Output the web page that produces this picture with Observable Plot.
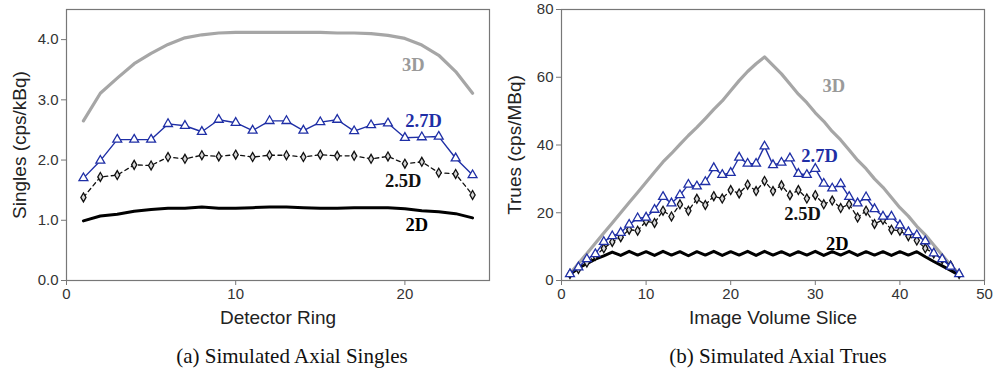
<!DOCTYPE html>
<html><head><meta charset="utf-8">
<script src="https://cdn.jsdelivr.net/npm/d3@7"></script>
<script src="https://cdn.jsdelivr.net/npm/@observablehq/plot@0.6"></script>
<style>
body{margin:0;background:#fff;}
#wrap{position:relative;width:999px;height:375px;overflow:hidden;}
.panel{position:absolute;top:0;}
.cap{position:absolute;top:343px;width:300px;font-family:"Liberation Serif","Times New Roman",serif;font-size:21px;line-height:26px;color:#111;text-align:center;white-space:nowrap;}
</style></head><body>
<div id="wrap">
  <div id="a" class="panel" style="left:0;width:500px"></div>
  <div id="b" class="panel" style="left:500px;width:499px"></div>
  <div class="cap" id="capA" style="left:142px"></div>
  <div class="cap" id="capB" style="left:628px"></div>
</div>
<script>
// ---------- Panel (a): Simulated Axial Singles ----------
const ring = [1,2,3,4,5,6,7,8,9,10,11,12,13,14,15,16,17,18,19,20,21,22,23,24];
const singles3D  = [2.65,3.11,3.36,3.60,3.77,3.92,4.03,4.08,4.11,4.12,4.12,4.12,4.12,4.12,4.12,4.11,4.11,4.10,4.07,4.02,3.91,3.74,3.47,3.11];
const singles27D = [1.70,1.99,2.34,2.34,2.34,2.60,2.57,2.47,2.67,2.62,2.49,2.65,2.65,2.49,2.63,2.67,2.48,2.58,2.61,2.37,2.38,2.39,2.03,1.75];
const singles25D = [1.38,1.72,1.75,1.92,1.91,2.05,2.02,2.08,2.06,2.09,2.05,2.08,2.08,2.05,2.09,2.07,2.07,2.02,2.06,1.94,1.97,1.79,1.77,1.42];
const singles2D  = [0.99,1.07,1.10,1.15,1.18,1.20,1.20,1.22,1.20,1.20,1.21,1.22,1.22,1.21,1.20,1.20,1.21,1.21,1.21,1.19,1.16,1.14,1.11,1.04];
const singlesXTicks = [0,10,20];
const singlesYTicks = [0,1,2,3,4];
const singlesLabelText = ["3D","2.7D","2.5D","2D"];
const singlesLabelX = [20.5,21.1,19.9,20.7];
const singlesLabelY = [3.57,2.65,1.65,0.92];

// ---------- Panel (b): Simulated Axial Trues ----------
const slice = [1,2,3,4,5,6,7,8,9,10,11,12,13,14,15,16,17,18,19,20,21,22,23,24,25,26,27,28,29,30,31,32,33,34,35,36,37,38,39,40,41,42,43,44,45,46,47];
const trues3D  = [2,5,8,11,14,17,20,23,26,29,32,35,37.5,40.2,42.8,45.2,47.8,50.5,53,56,59,61.7,64,66,63.5,61,58,55,52.5,49.5,47,44,41.5,38.5,35.5,33,30,27.5,24.5,21.5,19,16,13.5,10.5,7.5,4.5,2];
const trues27D = [1.9,3.9,6.3,7.8,11.4,13.1,14.1,16.5,18.4,18.6,20.9,24.7,22.8,25.2,28.3,27.8,29.1,33.2,31.2,31.8,36.3,34.5,34.5,39.6,34.1,34.8,36.1,31.5,31.2,33.0,28.6,27.2,28.5,24.7,22.8,24.6,21.1,18.9,18.9,16.3,14.3,13.4,11.6,8.0,6.3,4.1,1.9];
const trues25D = [1.9,3.4,5.3,7.3,9.5,11.4,12.8,15.0,14.7,17.5,17.0,20.6,18.9,22.5,20.6,24.1,22.3,24.9,24.2,26.7,25.7,28.3,26.4,29.4,26.4,28.1,25.2,26.7,24.2,25.2,22.5,23.6,21.4,22.5,18.6,20.6,16.7,17.9,15.0,14.7,13.1,11.8,9.5,8.0,6.3,4.4,1.9];
const trues2D  = [1.8,3.6,5.0,6.3,7.3,8.4,7.4,8.6,7.5,8.5,7.4,8.6,7.5,8.5,7.3,8.5,7.5,8.6,7.4,8.5,7.5,8.6,7.4,8.6,7.5,8.5,7.4,8.5,7.5,8.6,7.4,8.5,7.5,8.6,7.4,8.5,7.5,8.5,7.4,8.5,7.5,8.5,7.0,5.6,4.3,3.0,1.6];
const truesXTicks = [0,10,20,30,40,50];
const truesYTicks = [0,20,40,60,80];
const truesLabelText = ["3D","2.7D","2.5D","2D"];
const truesLabelX = [32.2,30.5,28.5,32.6];
const truesLabelY = [57.3,36.6,19.5,10.8];

const seriesColor = ["#a6a6a6","#1f2fa6","#111111","#000000"];
const labelColor  = ["#9a9a9a","#1f2fa6","#111111","#000000"];

const captions = ["(a) Simulated Axial Singles","(b) Simulated Axial Trues"];
const xLabels = ["Detector Ring","Image Volume Slice"];
const yLabels = ["Singles (cps/kBq)","Trues (cps/MBq)"];

function panel(opts){
  const {x, s3, s27, s25, s2, xDomain, yDomain, xTicks, yTicks, yFmt, lt, lx, ly, xLabel, yLabel, width, marginLeft, marginRight} = opts;
  const rows = x.map((v,i)=>({x:v, a:s3[i], b:s27[i], c:s25[i], d:s2[i]}));
  const labels = lt.map((t,i)=>({t, x:lx[i], y:ly[i], c:labelColor[i]}));
  return Plot.plot({
    width, height: 340,
    marginLeft, marginRight, marginTop: 9, marginBottom: 60,
    style: {fontFamily: "'Liberation Sans', Arial, sans-serif", fontSize: "15px", color: "#333", background: "#fff", overflow: "visible"},
    x: {domain: xDomain},
    y: {domain: yDomain},
    marks: [
      Plot.frame({stroke: "#777", strokeWidth: 1.2}),
      Plot.axisX({ticks: xTicks, tickSize: 5, tickPadding: 3, label: null, stroke: "#777"}),
      Plot.axisY({ticks: yTicks, tickSize: 5, tickPadding: 3, label: null, tickFormat: yFmt, stroke: "#777"}),
      Plot.line(rows, {x: "x", y: "a", stroke: seriesColor[0], strokeWidth: 3.2}),
      Plot.line(rows, {x: "x", y: "d", stroke: seriesColor[3], strokeWidth: 3}),
      Plot.line(rows, {x: "x", y: "c", stroke: seriesColor[2], strokeWidth: 1.3, strokeDasharray: "4,3.5"}),
      Plot.dot(rows, {x: "x", y: "c", symbol: "diamond", r: 2.7, stroke: "#111", strokeWidth: 1.3, fill: "#d8d8d8"}),
      Plot.line(rows, {x: "x", y: "b", stroke: seriesColor[1], strokeWidth: 1.4}),
      Plot.dot(rows, {x: "x", y: "b", symbol: "triangle", r: 3.3, stroke: seriesColor[1], strokeWidth: 1.3, fill: "#fff"}),
      Plot.text(labels, {x: "x", y: "y", text: "t", fill: "c", fontFamily: "'Liberation Serif', 'Times New Roman', serif", fontWeight: "bold", fontSize: 18.5}),
      Plot.text([xLabel], {text: d=>d, frameAnchor: "bottom", textAnchor: "middle", dy: 43, fontSize: 19, fill: "#222"}),
      Plot.text([yLabel], {text: d=>d, frameAnchor: "left", textAnchor: "middle", dx: -47, rotate: -90, fontSize: 19, fill: "#222"})
    ]
  });
}

document.getElementById("a").append(panel({
  x: ring, s3: singles3D, s27: singles27D, s25: singles25D, s2: singles2D,
  xDomain: [0,25], yDomain: [0,4.5], xTicks: singlesXTicks, yTicks: singlesYTicks, yFmt: d3.format(".1f"),
  lt: singlesLabelText, lx: singlesLabelX, ly: singlesLabelY,
  xLabel: xLabels[0], yLabel: yLabels[0], width: 500, marginLeft: 66, marginRight: 11
}));
document.getElementById("b").append(panel({
  x: slice, s3: trues3D, s27: trues27D, s25: trues25D, s2: trues2D,
  xDomain: [0,50], yDomain: [0,80], xTicks: truesXTicks, yTicks: truesYTicks, yFmt: d3.format("d"),
  lt: truesLabelText, lx: truesLabelX, ly: truesLabelY,
  xLabel: xLabels[1], yLabel: yLabels[1], width: 499, marginLeft: 61, marginRight: 15
}));
document.getElementById("capA").textContent = captions[0];
document.getElementById("capB").textContent = captions[1];
</script>
</body></html>
